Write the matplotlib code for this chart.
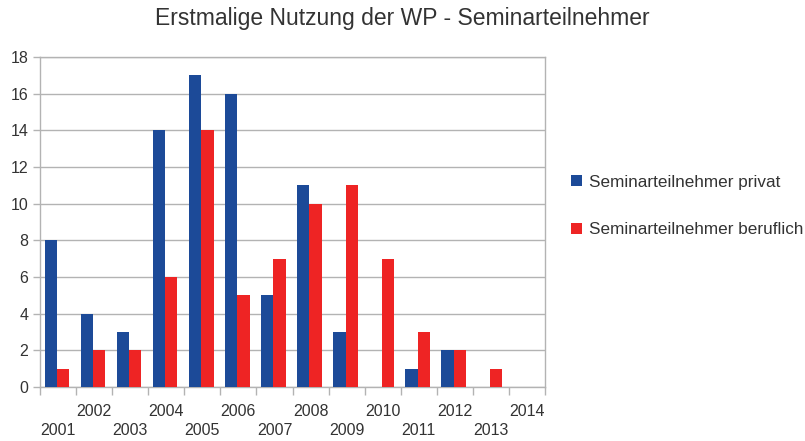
import matplotlib
matplotlib.use("Agg")
import matplotlib.pyplot as plt
import numpy as np

years = ["2001", "2002", "2003", "2004", "2005", "2006", "2007",
         "2008", "2009", "2010", "2011", "2012", "2013", "2014"]
privat = [8, 4, 3, 14, 17, 16, 5, 11, 3, 0, 1, 2, 0, 0]
beruflich = [1, 2, 2, 6, 14, 5, 7, 10, 11, 7, 3, 2, 1, 0]
series_names = ["Seminarteilnehmer privat", "Seminarteilnehmer beruflich"]
title = "Erstmalige Nutzung der WP - Seminarteilnehmer"

plt.rcParams['font.family'] = ['Liberation Sans', 'DejaVu Sans']

fig = plt.figure(figsize=(8.05, 4.41), dpi=100)
ax = fig.add_axes([40/805, 1-387/441, 505/805, 330/441])

x = np.arange(len(years))
w = 0.34
ax.bar(x - w/2 - 0.03, privat, w, color="#1c4a98", label=series_names[0], zorder=3)
ax.bar(x + w/2 - 0.03, beruflich, w, color="#ee2424", label=series_names[1], zorder=3)

ax.set_xlim(-0.5, len(years) - 0.5)
ax.set_ylim(0, 18)
ax.set_yticks(range(0, 19, 2))
ax.yaxis.grid(True, color="#b3b3b3", linewidth=1, zorder=0)

# boundaries ticks
ax.set_xticks(np.arange(-0.5, len(years)), minor=False)
ax.set_xticklabels([])
ax.set_xticks(x, minor=True)
labels = [("\n" + y) if i % 2 == 0 else y for i, y in enumerate(years)]
ax.set_xticklabels(labels, minor=True)
ax.tick_params(axis='x', which='minor', length=0, pad=12, labelsize=11.5, labelcolor="#333333")
ax.tick_params(axis='x', which='major', length=6, color="#b3b3b3", width=1)
ax.tick_params(axis='y', length=5, color="#b3b3b3", width=1, labelsize=11.5, labelcolor="#333333")
for lbl in ax.get_xticklabels(minor=True):
    lbl.set_linespacing(1.4)

for s in ax.spines.values():
    s.set_color("#b3b3b3")
    s.set_linewidth(1)

fig.text(0.5, 1-18/441, title, ha="center", va="center", fontsize=16.5, color="#333333")

fig.legend(loc="center left", bbox_to_anchor=(556/805, 1-206/441), frameon=False,
           fontsize=12.3, handlelength=0.65, handleheight=0.65, handletextpad=0.4,
           labelspacing=1.9, labelcolor="#333333")

fig.savefig("out.png", dpi=100)
